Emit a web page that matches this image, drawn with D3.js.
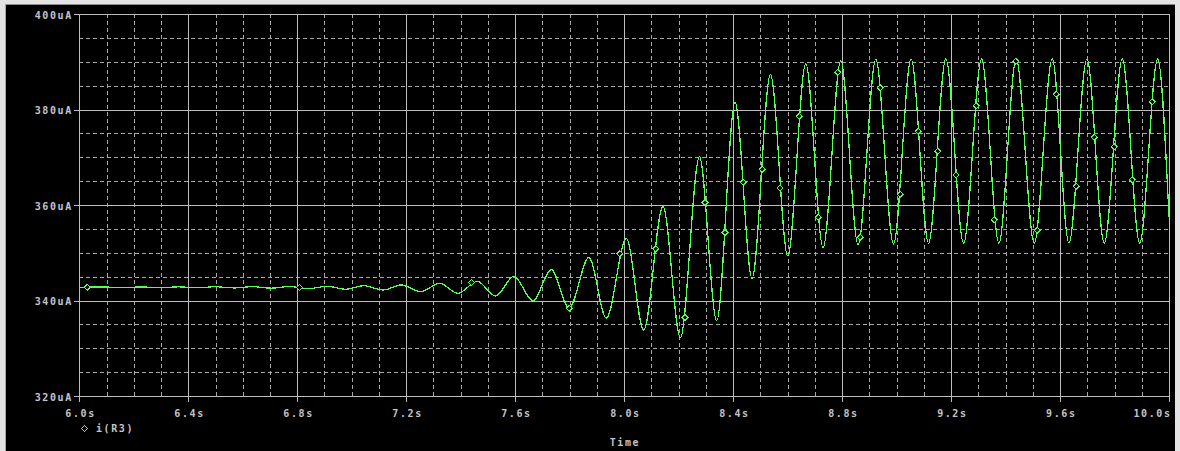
<!DOCTYPE html>
<html><head><meta charset="utf-8">
<script src="https://cdn.jsdelivr.net/npm/d3@7"></script>
<style>
html,body{margin:0;padding:0;background:#e4e4e4;overflow:hidden;}
svg{display:block;}
text{font-family:"DejaVu Sans Mono",monospace;font-weight:bold;font-size:10px;fill:#c4c4c4;letter-spacing:1.6px;}
</style></head><body>
<svg id="chart" width="1180" height="451"></svg>
<script>
// ---------- data ----------
const seriesName = "i(R3)";
const axisTitle = "Time";
const timeS = [
  6.0000, 6.0918, 6.1616, 6.2277, 6.2975, 6.3636, 6.4334, 6.4995, 6.5693, 6.6354,
  6.7052, 6.7713, 6.8411, 6.9098, 6.9770, 7.0443, 7.1155, 7.1816, 7.2525, 7.3234,
  7.3895, 7.4608, 7.5280, 7.5952, 7.6650, 7.7326, 7.7980, 7.8707, 7.9346, 8.0081,
  8.0716, 8.1425, 8.2064, 8.2763, 8.3398, 8.4070, 8.4694, 8.5370, 8.6006, 8.6667,
  8.7302, 8.7952, 8.8588, 8.9238, 8.9888, 9.0534, 9.1174, 9.1809, 9.2459, 9.3120,
  9.3756, 9.4391, 9.5053, 9.5713, 9.6327, 9.6988, 9.7624, 9.8285, 9.8924, 9.9585,
  10.0000
];
const currentUA = [
  342.78, 342.82, 342.70, 342.84, 342.68, 342.86, 342.66, 342.88, 342.63, 342.90,
  342.58, 342.93, 342.48, 342.98, 342.35, 343.10, 342.20, 343.25, 341.85, 343.60,
  341.50, 344.00, 340.94, 345.07, 339.96, 346.45, 338.40, 349.00, 336.30, 353.00,
  333.80, 359.70, 332.20, 370.10, 335.80, 381.50, 344.60, 387.40, 349.30, 389.60,
  351.10, 390.20, 351.70, 390.50, 351.80, 390.60, 352.00, 390.60, 352.00, 390.60,
  352.00, 390.60, 352.00, 390.60, 352.00, 390.60, 352.00, 390.60, 352.00, 390.60,
  357.50
];
// diamond markers on the trace (time, value)
const markerTimeS = [
  6.0294, 6.8081, 7.4399, 7.7980, 7.9846, 8.1168, 8.2233, 8.2964, 8.3702, 8.4364,
  8.5062, 8.5723, 8.6421, 8.7118, 8.7842, 8.8661, 8.9396, 9.0131, 9.0792, 9.1515,
  9.2187, 9.2922, 9.3583, 9.4380, 9.5163, 9.5861, 9.6595, 9.7256, 9.7991, 9.8652,
  9.9387
];
const markerUA = [
  342.80, 342.72, 343.81, 338.37, 349.80, 350.85, 336.40, 360.52, 354.28, 364.75,
  367.48, 363.56, 378.58, 357.42, 387.79, 353.24, 384.57, 362.24, 375.43, 371.25,
  366.28, 380.80, 356.92, 390.09, 354.70, 383.18, 363.92, 374.18, 372.21, 365.24,
  381.63
];
const xTickValues = [6.0, 6.4, 6.8, 7.2, 7.6, 8.0, 8.4, 8.8, 9.2, 9.6, 10.0];
const xTickLabels = ["6.0s","6.4s","6.8s","7.2s","7.6s","8.0s","8.4s","8.8s","9.2s","9.6s","10.0s"];
const yTickValues = [320, 340, 360, 380, 400];
const yTickLabels = ["320uA","340uA","360uA","380uA","400uA"];
const xMinorStep = 0.1;
const yMinorStep = 5;

(function () {
// ---------- layout ----------
const W = 1180, H = 451;
const pLeft = 79.3, pRight = 1169, pTop = 14, pBottom = 396;
const gridCol = "#bdbdbd", dashCol = "#a8a8a8", traceCol = "#55ff55";

const svg = d3.select("#chart");
// window chrome
svg.append("rect").attr("x",0).attr("y",0).attr("width",W).attr("height",H).attr("fill","#e4e4e4");
svg.append("rect").attr("x",6).attr("y",5).attr("width",1169).attr("height",H-5).attr("fill","#000");
svg.append("line").attr("x1",5).attr("x2",1175).attr("y1",4.5).attr("y2",4.5).attr("stroke","#8a8a8a");
svg.append("line").attr("x1",5.5).attr("x2",5.5).attr("y1",4).attr("y2",H).attr("stroke","#a8a8a8");

const x = d3.scaleLinear().domain([6.0, 10.0]).range([pLeft, pRight]);
const y = d3.scaleLinear().domain([320, 400]).range([pBottom, pTop]);

// minor dashed grid
const xMinor = d3.range(6.0, 10.0001, xMinorStep).filter(v => !xTickValues.some(t => Math.abs(t - v) < 1e-6));
const yMinor = d3.range(320, 400.001, yMinorStep).filter(v => !yTickValues.includes(Math.round(v)));
const g = svg.append("g").attr("shape-rendering","crispEdges");
g.selectAll("line.xm").data(xMinor).join("line").attr("class","xm")
  .attr("x1", d => Math.round(x(d)) + 0.5).attr("x2", d => Math.round(x(d)) + 0.5)
  .attr("y1", pTop).attr("y2", pBottom)
  .attr("stroke", dashCol).attr("stroke-dasharray","4,3");
g.selectAll("line.ym").data(yMinor).join("line").attr("class","ym")
  .attr("y1", d => Math.round(y(d)) + 0.5).attr("y2", d => Math.round(y(d)) + 0.5)
  .attr("x1", pLeft).attr("x2", pRight)
  .attr("stroke", dashCol).attr("stroke-dasharray","4,3");

// major solid grid with ticks
g.selectAll("line.xM").data(xTickValues).join("line").attr("class","xM")
  .attr("x1", d => Math.round(x(d)) + 0.5).attr("x2", d => Math.round(x(d)) + 0.5)
  .attr("y1", pTop).attr("y2", pBottom + 6)
  .attr("stroke", gridCol);
g.selectAll("line.yM").data(yTickValues).join("line").attr("class","yM")
  .attr("y1", d => Math.round(y(d)) + 0.5).attr("y2", d => Math.round(y(d)) + 0.5)
  .attr("x1", pLeft - 5).attr("x2", pRight)
  .attr("stroke", gridCol);

// axis labels via d3 axes (tick lines drawn above)
const xAxis = d3.axisBottom(x).tickValues(xTickValues).tickFormat((d,i) => xTickLabels[i]).tickSize(0).tickPadding(0);
const xa = svg.append("g").attr("transform", `translate(0.8,${pBottom + 21})`).call(xAxis);
xa.select(".domain").remove();
xa.selectAll("text").attr("dy", 0).attr("y", 0).attr("fill", null);
xa.attr("font-family", null).attr("font-size", null);
// last label sits flush with the right edge of the plot
xa.selectAll(".tick").filter((d,i,n) => i === n.length - 1).select("text")
  .attr("text-anchor", "end").attr("x", 1.2);

const yAxis = d3.axisLeft(y).tickValues(yTickValues).tickFormat((d,i) => yTickLabels[i]).tickSize(0).tickPadding(0);
const ya = svg.append("g").attr("transform", `translate(${pLeft - 6.5},4)`).call(yAxis);
ya.select(".domain").remove();
ya.selectAll("text").attr("dy", 0).attr("x", 0).attr("fill", null);
ya.attr("font-family", null).attr("font-size", null);

// trace
const pts = timeS.map((t,i) => [t, currentUA[i]]);
const line = d3.line().x(d => x(d[0])).y(d => y(d[1])).curve(d3.curveMonotoneX);
svg.append("path").datum(pts)
  .attr("d", line).attr("fill","none").attr("stroke", traceCol)
  .attr("stroke-width", 1.25).attr("shape-rendering","crispEdges");

// markers
const diamond = "M0,-3L3,0L0,3L-3,0Z";
const mk = markerTimeS.map((t,i) => [t, markerUA[i]]);
svg.append("g").selectAll("path").data(mk).join("path")
  .attr("d", diamond)
  .attr("transform", d => `translate(${x(d[0])},${y(d[1])})`)
  .attr("fill", "#000").attr("stroke", traceCol).attr("stroke-width", 1)
  .attr("shape-rendering","crispEdges");

// legend
svg.append("path").attr("d", diamond).attr("transform","translate(84.5,428.5)")
  .attr("fill","#000").attr("stroke", traceCol).attr("shape-rendering","crispEdges");
svg.append("text").attr("x", 96).attr("y", 432).text(seriesName);

// x title
svg.append("text").attr("x", 625).attr("y", 446).attr("text-anchor","middle").text(axisTitle);
})();
</script>
</body></html>
